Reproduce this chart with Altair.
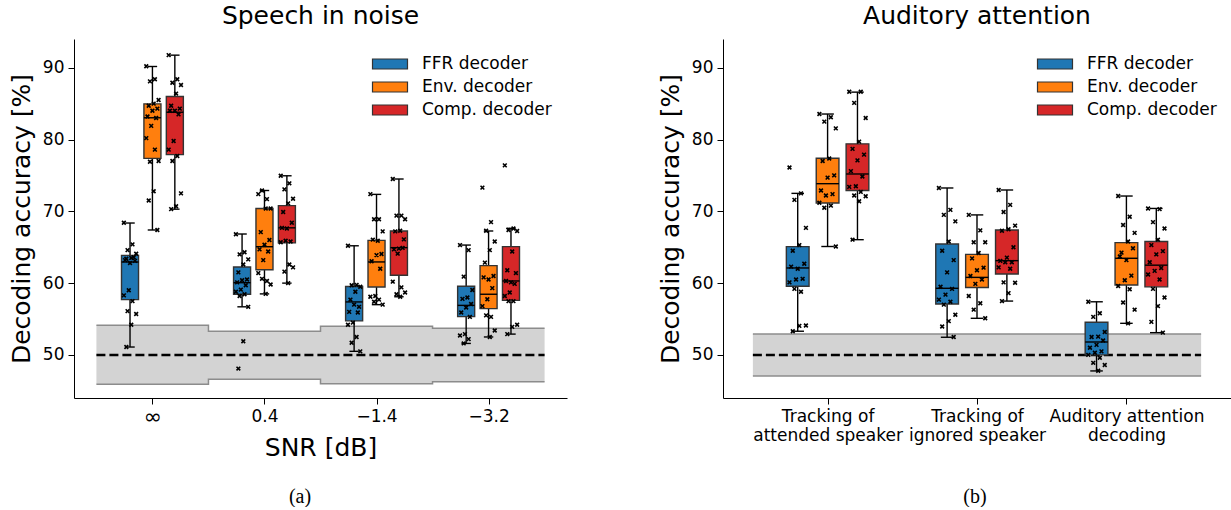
import json
import altair as alt
import pandas as pd

FONT = "DejaVu Sans"
SERIF = "Liberation Serif"

DECODERS = ["FFR decoder", "Env. decoder", "Comp. decoder"]
COLORS = ["#1f77b4", "#ff7f0e", "#d62728"]

SNR_LABELS = ["∞", "0.4", "−1.4", "−3.2"]
ATT_LABELS = [["Tracking of", "attended speaker"],
              ["Tracking of", "ignored speaker"],
              ["Auditory attention", "decoding"]]
Y_TICKS = [50, 60, 70, 80, 90]
CHANCE = 50

# ---- Speech in noise: box statistics [decoder][SNR] ----
SNR_LO = [[51.1, 56.7, 50.5, 51.6], [67.4, 58.5, 57.0, 52.5], [70.3, 60.0, 58.1, 52.9]]
SNR_Q1 = [[57.7, 58.45, 54.74, 55.34], [77.37, 61.87, 59.47, 56.45], [77.9, 65.6, 61.1, 57.6]]
SNR_MED = [[62.94, 60.06, 57.38, 56.9], [83.03, 65.07, 62.95, 58.45], [83.8, 67.7, 64.94, 60.3]]
SNR_Q3 = [[63.87, 62.25, 59.52, 59.56], [84.97, 70.4, 65.96, 62.43], [86.0, 70.8, 67.26, 65.08]]
SNR_HI = [[68.37, 66.84, 65.2, 65.3], [90.17, 72.9, 72.36, 67.26], [91.75, 74.95, 74.5, 67.63]]

# ---- Speech in noise: single-subject accuracies [decoder][SNR] ----
SNR_FFR_PTS = [
    [68.4, 65.4, 64.6, 64.1, 63.5, 63.4, 63.1, 62.8, 63.2, 63.6, 59.0, 58.3, 57.5, 56.1, 55.7, 54.2, 51.1],
    [66.8, 64.3, 64.0, 63.3, 62.6, 61.5, 60.5, 60.4, 60.1, 59.7, 59.1, 58.8, 58.45, 58.2, 56.7, 51.9, 48.1],
    [65.2, 59.75, 59.7, 59.5, 58.8, 57.7, 56.7, 57.0, 56.0, 55.9, 54.5, 54.2, 52.5, 51.7, 50.5],
    [65.3, 64.6, 60.9, 59.05, 58.0, 57.8, 57.1, 56.6, 55.9, 55.3, 52.9, 52.7, 52.2, 51.6],
]
SNR_ENV_PTS = [
    [90.2, 88.4, 88.1, 85.5, 85.0, 84.7, 84.3, 84.0, 83.2, 83.0, 81.9, 80.2, 78.6, 76.9, 77.0, 72.8, 71.5, 67.4],
    [72.4, 71.7, 72.9, 70.4, 70.4, 67.1, 66.0, 65.35, 64.7, 64.4, 63.2, 61.4, 60.3, 60.6, 59.8, 58.5],
    [72.4, 68.9, 68.9, 67.2, 65.9, 66.05, 64.05, 63.9, 63.05, 62.0, 58.2, 58.1, 57.7, 57.4, 57.0],
    [73.3, 68.5, 67.3, 65.8, 64.6, 62.85, 61.0, 60.5, 60.8, 59.3, 57.75, 56.8, 55.3, 55.5, 53.4, 52.5],
]
SNR_COMP_PTS = [
    [91.75, 88.4, 87.9, 87.6, 86.4, 84.7, 84.3, 84.0, 84.0, 83.5, 79.8, 78.6, 77.7, 77.0, 72.5, 70.7, 70.3],
    [74.95, 73.9, 73.05, 71.75, 71.1, 69.9, 68.4, 67.6, 67.7, 65.8, 65.9, 65.7, 62.6, 61.6, 62.2, 60.0],
    [74.5, 69.4, 69.4, 68.9, 67.3, 67.2, 66.1, 64.8, 64.7, 64.9, 64.1, 60.2, 59.4, 58.45, 58.7, 58.1],
    [76.4, 67.6, 67.4, 67.26, 64.4, 61.8, 61.4, 60.1, 60.3, 59.9, 58.7, 58.2, 57.5, 57.5, 54.2, 53.9, 52.9],
]
SNR_CHANCE_LO = [45.92, 46.6, 46.0, 46.25]
SNR_CHANCE_HI = [54.13, 53.3, 54.0, 53.7]

# ---- Auditory attention: box statistics [decoder][condition] ----
ATT_LO = [[53.3, 52.46, 47.77], [65.1, 55.1, 54.4], [66.05, 57.5, 53.1]]
ATT_Q1 = [[59.56, 57.1, 50.0], [71.15, 59.4, 59.74], [72.9, 61.27, 59.48]]
ATT_MED = [[62.11, 59.28, 51.8], [73.85, 60.8, 63.46], [75.2, 63.13, 62.5]]
ATT_Q3 = [[65.08, 65.45, 54.56], [77.4, 64.0, 65.64], [79.4, 67.4, 65.8]]
ATT_HI = [[72.5, 73.25, 57.4], [83.55, 69.5, 72.13], [86.6, 72.97, 70.4]]

ATT_FFR_PTS = [
    [76.1, 72.5, 71.6, 67.7, 65.3, 64.5, 62.7, 62.0, 62.3, 60.6, 60.5, 60.1, 58.8, 59.2, 54.1, 54.05, 53.3],
    [73.25, 70.2, 69.5, 68.6, 65.8, 64.5, 63.2, 61.5, 59.5, 59.2, 58.4, 57.7, 57.4, 57.0, 55.6, 54.7, 53.95, 52.5],
    [57.4, 55.8, 55.3, 53.2, 52.55, 52.5, 52.0, 51.4, 51.0, 50.5, 50.3, 50.0, 49.6, 48.9, 48.6, 47.8],
]
ATT_ENV_PTS = [
    [83.55, 83.1, 82.5, 81.55, 77.35, 77.0, 75.0, 74.7, 72.9, 72.4, 72.2, 71.2, 70.8, 70.5, 65.1],
    [69.5, 67.35, 65.7, 65.7, 64.2, 63.45, 62.15, 61.8, 61.0, 60.5, 59.9, 58.2, 57.2, 56.3, 55.1],
    [72.13, 69.25, 68.1, 67.0, 65.8, 64.25, 64.85, 63.2, 63.7, 61.05, 60.4, 59.6, 59.15, 57.3, 56.3, 54.4],
]
ATT_COMP_PTS = [
    [86.65, 86.65, 85.1, 83.0, 79.7, 78.7, 77.9, 77.1, 75.6, 74.85, 73.5, 73.4, 72.7, 72.2, 72.1, 71.4, 66.05],
    [72.97, 70.9, 69.9, 68.0, 67.5, 67.3, 65.0, 63.55, 63.1, 62.9, 62.9, 62.2, 62.0, 60.1, 60.05, 58.6, 57.5],
    [70.4, 70.3, 68.5, 67.6, 66.05, 65.3, 64.45, 64.0, 62.9, 62.1, 61.7, 61.2, 60.5, 59.2, 58.0, 56.8, 54.6, 53.1],
]
ATT_CHANCE_LO = [47.08, 47.08, 47.08]
ATT_CHANCE_HI = [52.92, 52.92, 52.92]


def box_frame(lo, q1, med, q3, hi):
    rows = []
    for d, name in enumerate(DECODERS):
        for c in range(len(lo[d])):
            rows.append(dict(cat=c, dec=d, decoder=name, lo=lo[d][c], q1=q1[d][c],
                             med=med[d][c], q3=q3[d][c], hi=hi[d][c]))
    return pd.DataFrame(rows)


def point_frame(per_decoder):
    rows = []
    for d, lists in enumerate(per_decoder):
        for c, vals in enumerate(lists):
            for k, v in enumerate(vals):
                rows.append(dict(cat=c, dec=d, k=k, v=v))
    return pd.DataFrame(rows)


def band_frame(lo, hi):
    n = len(lo)
    rows = [dict(edge=i - 0.5, lo=lo[i], hi=hi[i]) for i in range(n)]
    rows.append(dict(edge=n - 0.5, lo=lo[-1], hi=hi[-1]))
    return pd.DataFrame(rows)


OFF = 0.2     # decoder offset within a group (fraction of category step)
HALF = 0.076  # half box width
CAP = 0.042   # half whisker-cap width
RECT = "M-1.75,-0.5H1.75V0.5H-1.75Z"
XMARK = "M-1,-1L1,1M-1,1L1,-1"


def panel(boxes, pts, band, labels, width, title, xtitle, caption, cap_x, leg_x, big_first=False):
    n = len(labels)
    lab_expr = json.dumps(labels, ensure_ascii=False) + "[datum.value]"
    xscale = alt.Scale(domain=[-0.7, n - 0.3], nice=False, zero=False)
    yscale = alt.Scale(domain=[44, 94], nice=False, zero=False)
    axis_kw = dict(values=list(range(n)), labelExpr=lab_expr, title=xtitle,
                   labelOverlap=False, labelBound=False, labelFlush=False,
                   labelLineHeight=19.5, titlePadding=8)
    if big_first:
        axis_kw["labelFontSize"] = {"condition": {"test": "datum.value == 0", "value": 22}, "value": 17}
        axis_kw["labelBaseline"] = "middle"
        axis_kw["labelPadding"] = 12
    xaxis = alt.Axis(**axis_kw)
    yaxis = alt.Axis(values=Y_TICKS, title="Decoding accuracy [%]", titlePadding=8)

    def X(f):
        return alt.X(f, type="quantitative", scale=xscale, axis=xaxis)

    def Y(f):
        return alt.Y(f, type="quantitative", scale=yscale, axis=yaxis)

    bb = alt.Chart(band)
    area = bb.mark_area(interpolate="step-after", color="#d3d3d3", opacity=1).encode(
        x=X("edge"), y=Y("lo"), y2="hi")
    top = bb.mark_line(interpolate="step-after", color="#8c8c8c", strokeWidth=1.5).encode(
        x=X("edge"), y=Y("hi"))
    bot = bb.mark_line(interpolate="step-after", color="#8c8c8c", strokeWidth=1.5).encode(
        x=X("edge"), y=Y("lo"))

    dash_df = pd.DataFrame({"x0": [-0.5], "x1": [n - 0.5], "c": [CHANCE]})
    dash = alt.Chart(dash_df).mark_rule(color="black", strokeWidth=2.5, strokeDash=[9, 4]).encode(
        x=X("x0"), x2="x1", y=Y("c"))

    bx = alt.Chart(boxes).transform_calculate(
        xc=f"datum.cat + (datum.dec - 1) * {OFF}",
        xl=f"datum.xc - {HALF}",
        xr=f"datum.xc + {HALF}",
        cl=f"datum.xc - {CAP}",
        cr=f"datum.xc + {CAP}",
    )
    wl = bx.mark_rule(color="black", strokeWidth=1.4).encode(x=X("xc"), y=Y("lo"), y2="q1")
    wh = bx.mark_rule(color="black", strokeWidth=1.4).encode(x=X("xc"), y=Y("q3"), y2="hi")
    cl = bx.mark_rule(color="black", strokeWidth=1.4).encode(x=X("cl"), x2="cr", y=Y("lo"))
    ch = bx.mark_rule(color="black", strokeWidth=1.4).encode(x=X("cl"), x2="cr", y=Y("hi"))
    rect = bx.mark_rect(stroke="#333333", strokeWidth=1.4, opacity=1).encode(
        x=X("xl"), x2="xr", y=Y("q1"), y2="q3",
        color=alt.Color("decoder:N", scale=alt.Scale(domain=DECODERS, range=COLORS),
                        legend=alt.Legend(title=None, orient="none", legendX=leg_x, legendY=14)))
    med = bx.mark_rule(color="black", strokeWidth=1.4).encode(x=X("xl"), x2="xr", y=Y("med"))

    pp = alt.Chart(pts).transform_calculate(
        xp=f"datum.cat + (datum.dec - 1) * {OFF} + (((datum.k * 7) % 11) / 10 - 0.5) * 0.11"
    ).mark_point(shape=XMARK, filled=False, color="black", strokeWidth=1.6, size=14, opacity=1).encode(
        x=X("xp"), y=Y("v"))

    cap = alt.Chart(pd.DataFrame({"t": [caption]})).mark_text(
        font=SERIF, fontSize=20, color="black").encode(
        text="t:N", x=alt.value(cap_x), y=alt.value(458))

    return alt.layer(area, top, bot, dash, wl, wh, cl, ch, rect, med, pp, cap).properties(
        width=width, height=359,
        title=alt.TitleParams(title, font=FONT, fontSize=25, fontWeight="normal",
                              color="black", anchor="middle", offset=10))


left = panel(box_frame(SNR_LO, SNR_Q1, SNR_MED, SNR_Q3, SNR_HI),
             point_frame([SNR_FFR_PTS, SNR_ENV_PTS, SNR_COMP_PTS]),
             band_frame(SNR_CHANCE_LO, SNR_CHANCE_HI),
             SNR_LABELS, 493, "Speech in noise", "SNR [dB]", "(a)", 226, 305, big_first=True)
right = panel(box_frame(ATT_LO, ATT_Q1, ATT_MED, ATT_Q3, ATT_HI),
              point_frame([ATT_FFR_PTS, ATT_ENV_PTS, ATT_COMP_PTS]),
              band_frame(ATT_CHANCE_LO, ATT_CHANCE_HI),
              ATT_LABELS, 508, "Auditory attention", "", "(b)", 252, 321)

chart = alt.hconcat(left, right, spacing=91).resolve_scale(color="independent").properties(
    padding={"left": 9, "top": 4, "right": 0, "bottom": 0}
).configure_view(stroke=None).configure_axis(
    domainColor="black", domainWidth=1, tickColor="black", tickWidth=1, tickSize=6,
    labelColor="black", titleColor="black", labelFont=FONT, titleFont=FONT,
    labelFontSize=17, titleFontSize=25, titleFontWeight="normal", labelPadding=4, grid=False
).configure_legend(
    labelFont=FONT, labelFontSize=17, labelColor="black", symbolType=RECT, symbolSize=400,
    symbolStrokeColor="#333333", symbolStrokeWidth=1.2, rowPadding=4, labelOffset=21,
    padding=0, symbolOpacity=1
)

chart.save("out.html", embed_options={"renderer": "svg", "actions": False})
